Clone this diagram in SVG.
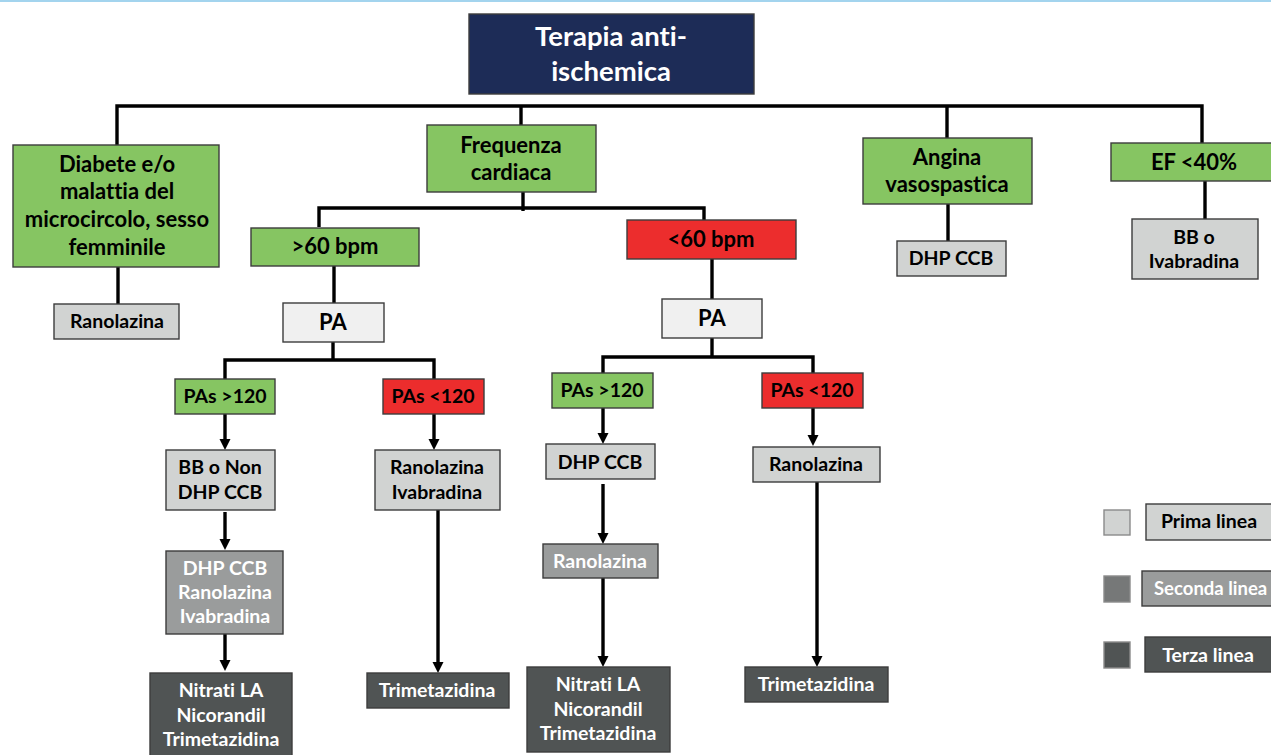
<svg xmlns="http://www.w3.org/2000/svg" width="1271" height="755" viewBox="0 0 1271 755">
<style>
text{font-family:Lato,"Liberation Sans",sans-serif;font-weight:bold;text-anchor:middle;font-variant-ligatures:none;font-feature-settings:"liga" 0}
.box{stroke:#3c3c3c;stroke-width:1.4}
.nav{fill:#1D2C57}
.grn{fill:#86C562}
.red{fill:#EC2D2D}
.l1{fill:#D1D3D2}
.pa{fill:#F0F0F0}
.l2{fill:#9A9C9C}
.l3{fill:#505454}
.tb{fill:#000;font-size:22px}
.ts{fill:#000;font-size:19.5px}
.tw{fill:#fff;font-size:19.5px}
.tt{fill:#fff;font-size:27.5px}
.con line,.con polyline{stroke:#000;stroke-width:3.4;fill:none}
.leg{stroke:#8a8a8a;stroke-width:1.4}
</style>
<defs>
<marker id="ah" markerUnits="userSpaceOnUse" markerWidth="12" markerHeight="12" refX="3" refY="5.5" orient="auto">
<path d="M0,0 L11,5.5 L0,11 z" fill="#000"/>
</marker>
</defs>
<line x1="0" y1="1" x2="1271" y2="1" stroke="#A3D4EE" stroke-width="2"/>
<g class="con">
<polyline points="117,145 117,106 1202,106 1202,143"/>
<line x1="521" y1="106" x2="521" y2="125"/>
<line x1="947" y1="106" x2="947" y2="138"/>
<line x1="118" y1="267" x2="118" y2="304"/>
<line x1="523" y1="192" x2="523" y2="211"/>
<polyline points="319,227 319,208 704,208 704,220"/>
<line x1="948" y1="204" x2="948" y2="241"/>
<line x1="1205" y1="181" x2="1205" y2="219"/>
<line x1="334" y1="266" x2="334" y2="303"/>
<line x1="333" y1="342" x2="333" y2="360"/>
<polyline points="225,379 225,360 434,360 434,379"/>
<line x1="712" y1="259" x2="712" y2="299"/>
<line x1="712" y1="338" x2="712" y2="357"/>
<polyline points="603,373 603,357 813,357 813,373"/>
<line x1="225" y1="414" x2="225" y2="442" marker-end="url(#ah)"/>
<line x1="225" y1="512" x2="225" y2="542" marker-end="url(#ah)"/>
<line x1="225" y1="634" x2="225" y2="663" marker-end="url(#ah)"/>
<line x1="434" y1="414" x2="434" y2="442" marker-end="url(#ah)"/>
<line x1="438" y1="510" x2="438" y2="665" marker-end="url(#ah)"/>
<line x1="603" y1="408" x2="603" y2="436" marker-end="url(#ah)"/>
<line x1="603" y1="484" x2="603" y2="536" marker-end="url(#ah)"/>
<line x1="603" y1="578" x2="603" y2="659" marker-end="url(#ah)"/>
<line x1="813" y1="408" x2="813" y2="438" marker-end="url(#ah)"/>
<line x1="817" y1="482" x2="817" y2="659" marker-end="url(#ah)"/>
</g>
<g id="title"><rect class="box nav" x="469" y="14" width="285" height="80"/><text class="tt" x="611" y="46">Terapia anti-</text><text class="tt" x="611" y="81">ischemica</text></g>
<g id="diabete"><rect class="box grn" x="13" y="145" width="206" height="122"/><text class="tb" x="117" y="172">Diabete e/o</text><text class="tb" x="117" y="199">malattia del</text><text class="tb" x="117" y="227">microcircolo, sesso</text><text class="tb" x="117" y="255">femminile</text></g>
<g id="frequenza"><rect class="box grn" x="427" y="125" width="169" height="67"/><text class="tb" x="511" y="153">Frequenza</text><text class="tb" x="511" y="180">cardiaca</text></g>
<g id="angina"><rect class="box grn" x="863" y="138" width="169" height="66"/><text class="tb" x="947" y="165">Angina</text><text class="tb" x="947" y="192">vasospastica</text></g>
<g id="ef"><rect class="box grn" x="1111" y="143" width="162" height="38"/><text class="tb" x="1194" y="170">EF &lt;40%</text></g>
<g id="ranolazina-diab"><rect class="box l1" x="54" y="304" width="125" height="35"/><text class="ts" x="117" y="328">Ranolazina</text></g>
<g id="bpm-hi"><rect class="box grn" x="251" y="228" width="168" height="38"/><text class="tb" x="335" y="254">&gt;60 bpm</text></g>
<g id="bpm-lo"><rect class="box red" x="627" y="220" width="169" height="39"/><text class="tb" x="711" y="247">&lt;60 bpm</text></g>
<g id="dhp-angina"><rect class="box l1" x="897" y="241" width="109" height="35"/><text class="ts" x="951" y="265">DHP CCB</text></g>
<g id="bb-ef"><rect class="box l1" x="1132" y="219" width="126" height="60"/><text class="ts" x="1194" y="244">BB o</text><text class="ts" x="1194" y="268">Ivabradina</text></g>
<g id="pa-left"><rect class="box pa" x="283" y="303" width="101" height="39"/><text class="tb" x="333" y="330">PA</text></g>
<g id="pa-right"><rect class="box pa" x="662" y="299" width="100" height="39"/><text class="tb" x="712" y="326">PA</text></g>
<g id="pas-hi-l"><rect class="box grn" x="175" y="379" width="100" height="35"/><text class="ts" x="225" y="403">PAs &gt;120</text></g>
<g id="pas-lo-l"><rect class="box red" x="383" y="379" width="101" height="35"/><text class="ts" x="433" y="403">PAs &lt;120</text></g>
<g id="pas-hi-r"><rect class="box grn" x="552" y="373" width="101" height="35"/><text class="ts" x="602" y="397">PAs &gt;120</text></g>
<g id="pas-lo-r"><rect class="box red" x="762" y="373" width="101" height="35"/><text class="ts" x="812" y="397">PAs &lt;120</text></g>
<g id="bb-non"><rect class="box l1" x="166" y="450" width="109" height="60"/><text class="ts" x="220" y="474">BB o Non</text><text class="ts" x="220" y="499">DHP CCB</text></g>
<g id="dhp-rano-ivab"><rect class="box l2" x="166" y="551" width="117" height="83"/><text class="tw" x="225" y="575">DHP CCB</text><text class="tw" x="225" y="599">Ranolazina</text><text class="tw" x="225" y="623">Ivabradina</text></g>
<g id="nitrati-l"><rect class="box l3" x="150" y="673" width="142" height="90"/><text class="tw" x="221" y="697">Nitrati LA</text><text class="tw" x="221" y="722">Nicorandil</text><text class="tw" x="221" y="746">Trimetazidina</text></g>
<g id="rano-ivab"><rect class="box l1" x="375" y="450" width="125" height="60"/><text class="ts" x="437" y="474">Ranolazina</text><text class="ts" x="437" y="499">Ivabradina</text></g>
<g id="trimet-l"><rect class="box l3" x="367" y="673" width="142" height="35"/><text class="tw" x="437" y="697">Trimetazidina</text></g>
<g id="dhp-r"><rect class="box l1" x="546" y="444" width="109" height="35"/><text class="ts" x="600" y="469">DHP CCB</text></g>
<g id="rano-2"><rect class="box l2" x="543" y="544" width="115" height="34"/><text class="tw" x="600" y="568">Ranolazina</text></g>
<g id="nitrati-r"><rect class="box l3" x="527" y="667" width="143" height="85"/><text class="tw" x="598" y="691">Nitrati LA</text><text class="tw" x="598" y="716">Nicorandil</text><text class="tw" x="598" y="740">Trimetazidina</text></g>
<g id="rano-r"><rect class="box l1" x="753" y="447" width="127" height="35"/><text class="ts" x="816" y="471">Ranolazina</text></g>
<g id="trimet-r"><rect class="box l3" x="745" y="667" width="143" height="35"/><text class="tw" x="816" y="691">Trimetazidina</text></g>
<g id="legend">
<rect class="leg l1" x="1104" y="510" width="26" height="25"/>
<rect class="box l1" x="1146" y="504" width="130" height="36"/><text class="ts" x="1209" y="528">Prima linea</text>
<rect class="leg" fill="#767878" x="1104" y="576" width="26" height="26"/>
<rect class="box l2" x="1142" y="571" width="134" height="35"/><text class="tw" x="1154" y="595" style="text-anchor:start;font-size:18.5px">Seconda linea</text>
<rect class="leg l3" x="1104" y="642" width="26" height="26"/>
<rect class="box l3" x="1145" y="637" width="131" height="35"/><text class="tw" x="1208" y="662">Terza linea</text>
</g>
</svg>
